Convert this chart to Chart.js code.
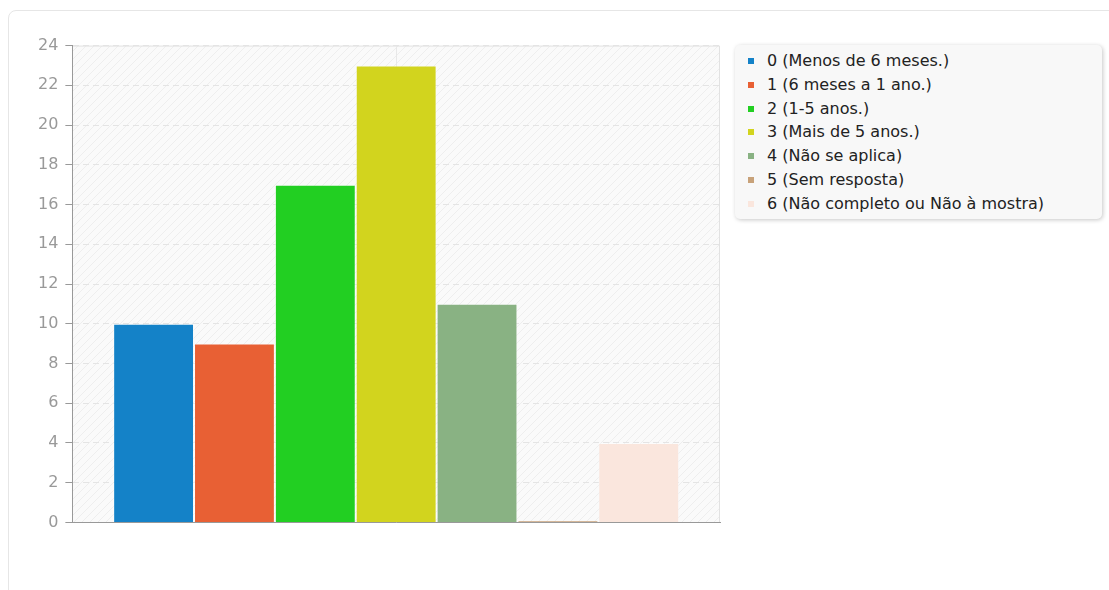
<!DOCTYPE html>
<html>
<head>
<meta charset="utf-8">
<script src="https://cdn.jsdelivr.net/npm/chart.js@4"></script>
<style>
  body { margin: 0; background: #fff; font-family: 'DejaVu Sans', sans-serif; }
  .card {
    position: absolute; left: 8px; top: 10px; width: 1130px; height: 620px;
    border: 1px solid #e6e6e6; border-radius: 8px; overflow: hidden;
  }
  .wrap { position: absolute; left: 22px; top: 18px; width: 694px; height: 510px; }
  #legend {
    position: absolute; left: 726px; top: 34px; width: 367px;
    padding: 4px 0 3px 0; box-sizing: border-box;
    background: #f8f8f8; border-radius: 5px;
    box-shadow: 1px 1px 4px rgba(0,0,0,0.22);
    font-size: 16px; color: #222;
  }
  #legend div { height: 23.8px; line-height: 23.8px; white-space: nowrap; }
  #legend span.mk {
    display: inline-block; width: 6px; height: 6px;
    margin: 0 13px 0 13px; vertical-align: 2px;
  }
</style>
</head>
<body>
<div class="card">
  <div class="wrap"><canvas id="chart"></canvas></div>
  <div id="legend"></div>
</div>
<script>
const categories = [''];
const seriesNames = [
  '0 (Menos de 6 meses.)',
  '1 (6 meses a 1 ano.)',
  '2 (1-5 anos.)',
  '3 (Mais de 5 anos.)',
  '4 (Não se aplica)',
  '5 (Sem resposta)',
  '6 (Não completo ou Não à mostra)'
];
const seriesValues = [10, 9, 17, 23, 11, 0, 4];
const seriesColors = ['#1482c8', '#e86034', '#22cf22', '#d2d41e', '#89b283', '#c8a27a', '#fae6dd'];
const yTicks = [0, 24, 2];

// hatched background in the plot area
function makePattern(ctx) {
  const c = document.createElement('canvas');
  c.width = 8; c.height = 8;
  const p = c.getContext('2d');
  p.fillStyle = '#fafafa';
  p.fillRect(0, 0, 8, 8);
  p.strokeStyle = '#eeeeee';
  p.lineWidth = 1;
  p.beginPath();
  p.moveTo(0, 8); p.lineTo(8, 0);
  p.moveTo(-4, 4); p.lineTo(4, -4);
  p.moveTo(4, 12); p.lineTo(12, 4);
  p.stroke();
  return ctx.createPattern(c, 'repeat');
}

const backdrop = {
  id: 'backdrop',
  beforeDraw(chart) {
    const ctx = chart.ctx;
    const a = chart.chartArea;
    ctx.save();
    ctx.fillStyle = makePattern(ctx);
    ctx.fillRect(a.left, a.top, a.right - a.left, a.bottom - a.top);
    ctx.strokeStyle = '#e2e2e2';
    ctx.lineWidth = 1;
    ctx.beginPath();
    ctx.moveTo(a.left, a.top + 0.5);
    ctx.lineTo(a.right - 0.5, a.top + 0.5);
    ctx.lineTo(a.right - 0.5, a.bottom);
    ctx.stroke();
    ctx.restore();
  }
};

new Chart(document.getElementById('chart'), {
  type: 'bar',
  data: {
    labels: categories,
    datasets: seriesNames.map((name, i) => ({
      label: name,
      data: [seriesValues[i]],
      backgroundColor: seriesColors[i],
      borderColor: 'rgba(255,255,255,0.35)',
      borderWidth: 1,
      minBarLength: 2
    }))
  },
  options: {
    responsive: true,
    maintainAspectRatio: false,
    animation: false,
    layout: { padding: { top: 1, right: 5, bottom: 0, left: 0 } },
    datasets: { bar: { categoryPercentage: 0.874, barPercentage: 1 } },
    scales: {
      x: {
        ticks: { display: false },
        grid: { offset: false, color: '#e8e8e8', drawTicks: false },
        border: { color: '#999', width: 1 }
      },
      y: {
        min: yTicks[0],
        max: yTicks[1],
        ticks: { stepSize: yTicks[2], color: '#999', font: { family: 'DejaVu Sans', size: 16 }, padding: 7 },
        grid: { color: '#e4e4e4', tickColor: '#999', tickLength: 7 },
        border: { color: '#999', width: 1, dash: [6, 4] }
      }
    },
    plugins: {
      tooltip: { enabled: false },
      legend: { display: false }
    }
  },
  plugins: [backdrop]
});

// legend as html, built from the same arrays
const legend = document.getElementById('legend');
seriesNames.forEach((name, i) => {
  const row = document.createElement('div');
  row.innerHTML = `<span class="mk" style="background:${seriesColors[i]}"></span>${name}`;
  legend.appendChild(row);
});
</script>
</body>
</html>
